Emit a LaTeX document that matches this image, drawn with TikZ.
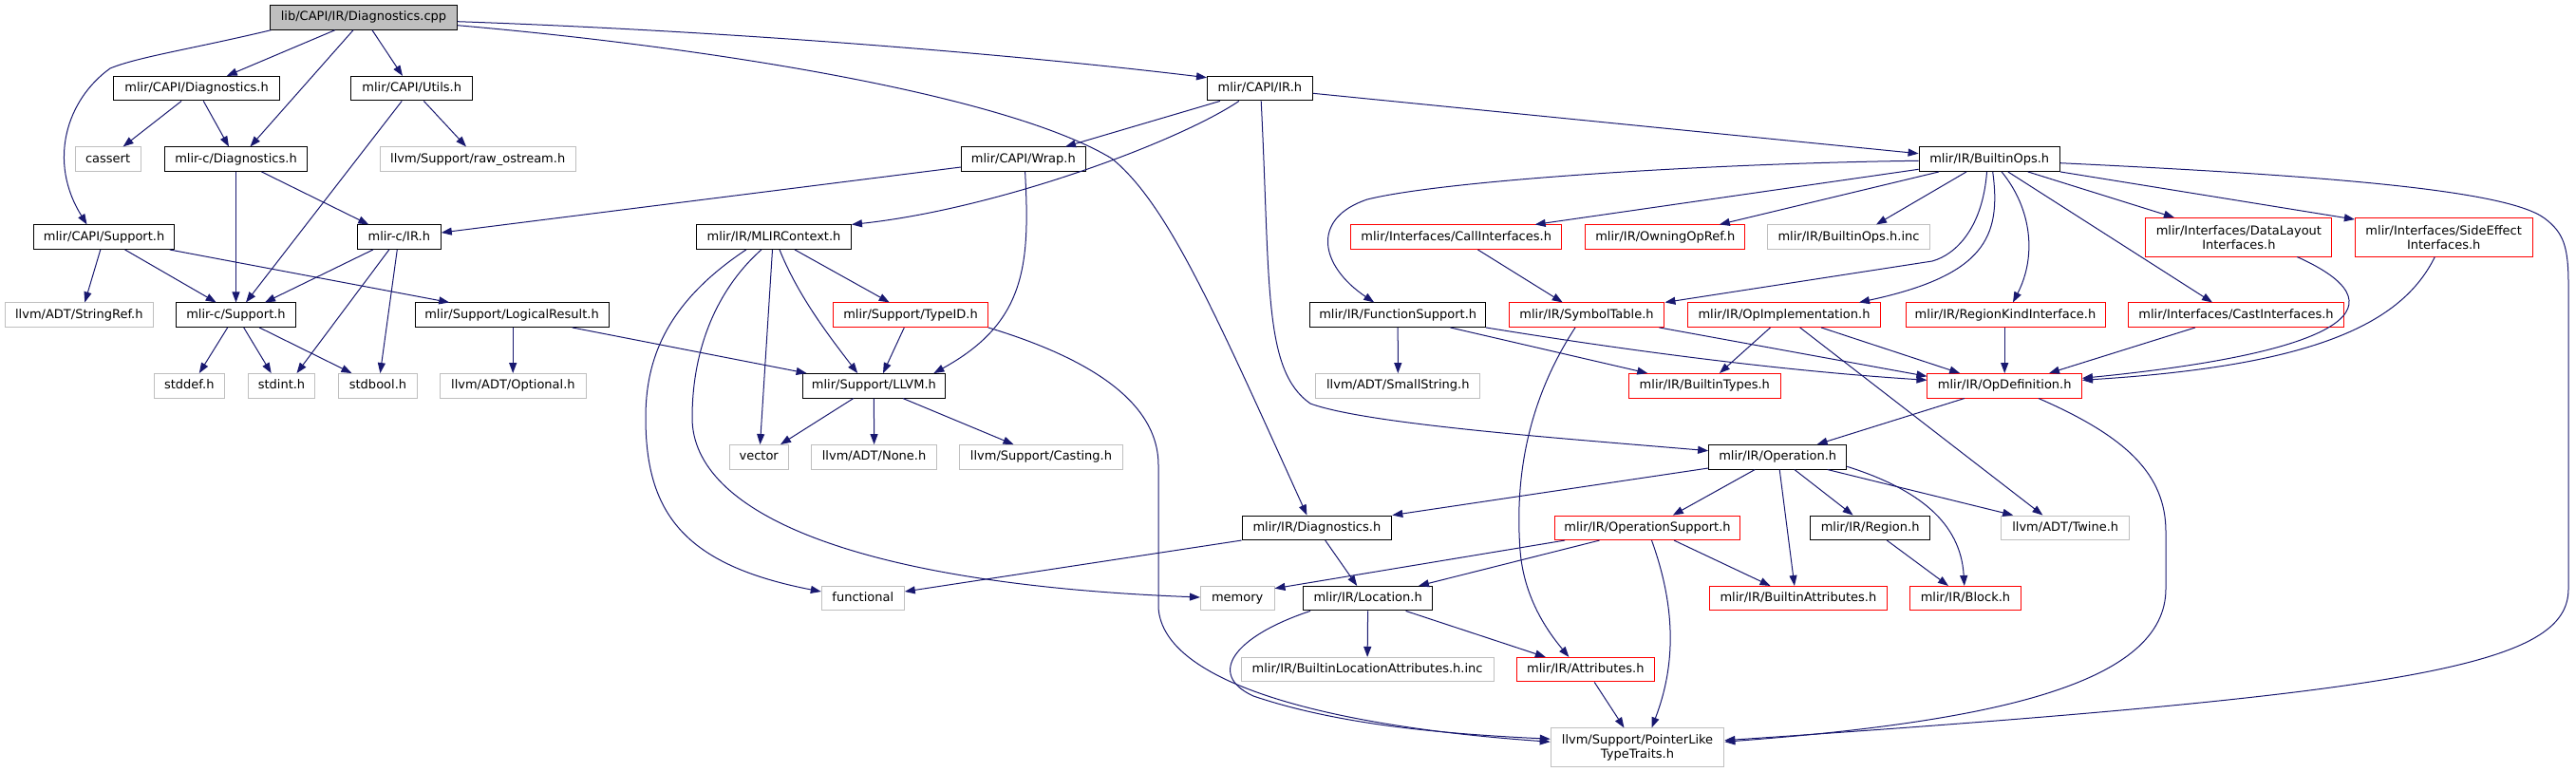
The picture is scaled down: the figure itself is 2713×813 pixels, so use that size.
\documentclass[tikz,border=0pt]{standalone}
\usepackage{fontspec}
\newfontfamily\dvs{DejaVu Sans}
\usetikzlibrary{arrows.meta}
\definecolor{edgeblue}{RGB}{25,25,112}
\definecolor{boxgray}{RGB}{191,191,191}
\definecolor{boxred}{RGB}{255,0,0}
\tikzset{
  base/.style={draw, line width=1pt, minimum height=25.5pt, inner sep=0pt, font={\dvs\fontsize{13}{15}\selectfont}},
  one/.style={text height=10.2pt, text depth=3.2pt},
  blk/.style={base, one, draw=black},
  gry/.style={base, one, draw=boxgray},
  redb/.style={base, one, draw=boxred},
  rootb/.style={base, one, draw=black, fill=boxgray},
  gry2/.style={base, draw=boxgray, minimum height=40.5pt, align=center},
  redb2/.style={base, draw=boxred, minimum height=40.5pt, align=center},
  lnk/.style={draw=edgeblue, line width=1pt, line join=round, -{Triangle[length=11pt,width=8pt]}}
}
\begin{document}
\begin{tikzpicture}[x=1pt,y=-1pt]
\fill[white] (0,0) rectangle (2713,813);
\useasboundingbox (0,0) rectangle (2713,813);
% nodes
\node[rootb, minimum width=196.5] (root) at (383,18.5) {lib/CAPI/IR/Diagnostics.cpp};
\node[blk, minimum width=175] (capiDiag) at (207.1,93.2) {mlir/CAPI/Diagnostics.h};
\node[blk, minimum width=128.2] (capiUtils) at (433.7,93.2) {mlir/CAPI/Utils.h};
\node[blk, minimum width=110.8] (capiIR) at (1326.9,93.2) {mlir/CAPI/IR.h};
\node[gry, minimum width=69.2] (cassert) at (113.6,167.7) {cassert};
\node[blk, minimum width=150.5] (mlircDiag) at (248.5,167.7) {mlir-c/Diagnostics.h};
\node[gry, minimum width=206.3] (rawostream) at (503.2,167.7) {llvm/Support/raw\_ostream.h};
\node[blk, minimum width=130.4] (capiWrap) at (1077.8,167.7) {mlir/CAPI/Wrap.h};
\node[blk, minimum width=148.3] (builtinOps) at (2095.2,167.7) {mlir/IR/BuiltinOps.h};
\node[blk, minimum width=147.8] (capiSupport) at (109.6,249.7) {mlir/CAPI/Support.h};
\node[blk, minimum width=88] (mlircIR) at (420.3,249.7) {mlir-c/IR.h};
\node[blk, minimum width=162.9] (mlirContext) at (815,249.7) {mlir/IR/MLIRContext.h};
\node[redb, minimum width=222.3] (callInterfaces) at (1533.7,249.7) {mlir/Interfaces/CallInterfaces.h};
\node[redb, minimum width=167.9] (owningOpRef) at (1753.8,249.7) {mlir/IR/OwningOpRef.h};
\node[gry, minimum width=170.5] (builtinOpsInc) at (1947,249.7) {mlir/IR/BuiltinOps.h.inc};
\node[redb2, minimum width=196] (dataLayout) at (2357.9,249.8) {mlir/Interfaces/DataLayout\\Interfaces.h};
\node[redb2, minimum width=186.6] (sideEffect) at (2573.7,249.8) {mlir/Interfaces/SideEffect\\Interfaces.h};
\node[gry, minimum width=155.8] (stringRef) at (83.3,331.7) {llvm/ADT/StringRef.h};
\node[blk, minimum width=125.5] (mlircSupport) at (248.5,331.7) {mlir-c/Support.h};
\node[blk, minimum width=204] (logicalResult) at (539,331.7) {mlir/Support/LogicalResult.h};
\node[redb, minimum width=162.5] (typeID) at (959,331.7) {mlir/Support/TypeID.h};
\node[blk, minimum width=184.5] (functionSupport) at (1472.2,331.7) {mlir/IR/FunctionSupport.h};
\node[redb, minimum width=163.9] (symbolTable) at (1671,331.7) {mlir/IR/SymbolTable.h};
\node[redb, minimum width=203.1] (opImpl) at (1879,331.7) {mlir/IR/OpImplementation.h};
\node[redb, minimum width=210] (regionKind) at (2112,331.7) {mlir/IR/RegionKindInterface.h};
\node[redb, minimum width=226.8] (castInterfaces) at (2355,331.7) {mlir/Interfaces/CastInterfaces.h};
\node[gry, minimum width=74.6] (stddef) at (199.3,406.3) {stddef.h};
\node[gry, minimum width=70.5] (stdint) at (296.5,406.3) {stdint.h};
\node[gry, minimum width=82.6] (stdbool) at (398,406.3) {stdbool.h};
\node[gry, minimum width=153.2] (optional) at (540.4,406.3) {llvm/ADT/Optional.h};
\node[blk, minimum width=150.4] (llvmH) at (920.4,406.3) {mlir/Support/LLVM.h};
\node[gry, minimum width=172.8] (smallString) at (1472.3,406.3) {llvm/ADT/SmallString.h};
\node[redb, minimum width=159.8] (builtinTypes) at (1795.3,406.3) {mlir/IR/BuiltinTypes.h};
\node[redb, minimum width=162.5] (opDef) at (2111.2,406.3) {mlir/IR/OpDefinition.h};
\node[gry, minimum width=62.4] (vector) at (799.2,481.3) {vector};
\node[gry, minimum width=132.1] (none) at (920.6,481.3) {llvm/ADT/None.h};
\node[gry, minimum width=171.4] (casting) at (1096.5,481.3) {llvm/Support/Casting.h};
\node[blk, minimum width=145.1] (operation) at (1872.2,481.3) {mlir/IR/Operation.h};
\node[blk, minimum width=157.8] (irDiag) at (1386.9,555.8) {mlir/IR/Diagnostics.h};
\node[redb, minimum width=194.6] (opSupport) at (1735,555.8) {mlir/IR/OperationSupport.h};
\node[blk, minimum width=125.4] (region) at (1969.6,555.8) {mlir/IR/Region.h};
\node[gry, minimum width=134.5] (twine) at (2175.2,555.8) {llvm/ADT/Twine.h};
\node[gry, minimum width=87] (functional) at (908.8,630.2) {functional};
\node[gry, minimum width=77.6] (memory) at (1303.2,630.2) {memory};
\node[blk, minimum width=136.2] (location) at (1440.6,630.2) {mlir/IR/Location.h};
\node[redb, minimum width=186.6] (builtinAttrs) at (1893.9,630.2) {mlir/IR/BuiltinAttributes.h};
\node[redb, minimum width=117.3] (block) at (2070,630.2) {mlir/IR/Block.h};
\node[gry, minimum width=265.8] (builtinLocInc) at (1440.1,705.2) {mlir/IR/BuiltinLocationAttributes.h.inc};
\node[redb, minimum width=145.6] (attributes) at (1669.8,705.2) {mlir/IR/Attributes.h};
\node[gry2, minimum width=182.6] (pointerLike) at (1724.5,787.2) {llvm/Support/PointerLike\\TypeTraits.h};
% edges
\draw[lnk] ([xshift=1pt]root.south west) .. controls (200,52) and (145,60) .. (116,72) .. controls (70,105) and (50,170) .. ([xshift=-18pt]capiSupport.north);
\draw[lnk] ([xshift=-30.3pt]root.south) -- ([xshift=31.7pt]capiDiag.north);
\draw[lnk] ([xshift=-11pt]root.south) -- ([xshift=15pt]mlircDiag.north);
\draw[lnk] ([xshift=9pt]root.south) -- ([xshift=-9.7pt]capiUtils.north);
\draw[lnk] ([yshift=-4.2pt]root.east) .. controls (750,32) and (1050,55) .. ([yshift=11.5pt]capiIR.west);
\draw[lnk] ([yshift=-8.2pt]root.east) .. controls (750,50) and (1060,100) .. (1171,167) .. controls (1230,215) and (1280,330) .. ([xshift=-10.5pt]irDiag.north);
\draw[lnk] ([xshift=-16pt]capiDiag.south) -- ([xshift=16pt]cassert.north);
\draw[lnk] ([xshift=7.2pt]capiDiag.south) -- ([xshift=-7.5pt]mlircDiag.north);
\draw[lnk] ([xshift=-10.5pt]capiUtils.south) -- ([xshift=10.5pt]mlircSupport.north);
\draw[lnk] ([xshift=12.7pt]capiUtils.south) -- ([xshift=-12.2pt]rawostream.north);
\draw[lnk] (mlircDiag.south) -- (mlircSupport.north);
\draw[lnk] ([xshift=27pt]mlircDiag.south) -- ([xshift=-32pt]mlircIR.north);
\draw[lnk] ([xshift=-3.8pt]capiSupport.south) -- ([xshift=6pt]stringRef.north);
\draw[lnk] ([xshift=22pt]capiSupport.south) -- ([xshift=-20.8pt]mlircSupport.north);
\draw[lnk] ([xshift=69pt]capiSupport.south) -- ([xshift=-65.8pt]logicalResult.north);
\draw[lnk] ([xshift=-27.4pt]mlircIR.south) -- ([xshift=30.5pt]mlircSupport.north);
\draw[lnk] ([xshift=-10.5pt]mlircIR.south) -- ([xshift=16pt]stdint.north);
\draw[lnk] ([xshift=-2pt]mlircIR.south) -- ([xshift=2.4pt]stdbool.north);
\draw[lnk] ([xshift=-8.8pt]mlircSupport.south) -- ([xshift=10.5pt]stddef.north);
\draw[lnk] ([xshift=8.2pt]mlircSupport.south) -- ([xshift=-10.8pt]stdint.north);
\draw[lnk] ([xshift=24.7pt]mlircSupport.south) -- ([xshift=-27.5pt]stdbool.north);
\draw[lnk] ([xshift=1.2pt]logicalResult.south) -- ([xshift=-0.2pt]optional.north);
\draw[lnk] ([xshift=63.7pt]logicalResult.south) -- ([xshift=-70.8pt]llvmH.north);
\draw[lnk] ([xshift=-42pt]capiIR.south) -- ([xshift=44.2pt]capiWrap.north);
\draw[lnk] ([xshift=-22pt]capiIR.south) .. controls (1240,150) and (1050,220) .. (mlirContext.north east);
\draw[lnk] ([xshift=1.3pt]capiIR.south) .. controls (1338,300) and (1330,390) .. (1380,425) .. controls (1440,447) and (1650,462) .. ([yshift=6.6pt]operation.west);
\draw[lnk] ([yshift=-5.1pt]capiIR.east) -- ([yshift=6pt]builtinOps.west);
\draw[lnk] ([yshift=-8.3pt]capiWrap.west) -- ([yshift=4.7pt]mlircIR.east);
\draw[lnk] ([xshift=1.8pt]capiWrap.south) .. controls (1085,280) and (1080,340) .. ([xshift=63pt]llvmH.north);
\draw[lnk] ([xshift=-29.2pt]mlirContext.south) .. controls (700,320) and (680,380) .. (680,440) .. controls (680,540) and (720,595) .. ([yshift=7.2pt]functional.west);
\draw[lnk] ([xshift=-13.1pt]mlirContext.south) .. controls (760,300) and (729,360) .. (729,440) .. controls (729,540) and (900,615) .. ([yshift=1.2pt]memory.west);
\draw[lnk] ([xshift=-1.5pt]mlirContext.south) -- ([xshift=1.3pt]vector.north);
\draw[lnk] ([xshift=6pt]mlirContext.south) .. controls (840,310) and (870,350) .. ([xshift=-17.2pt]llvmH.north);
\draw[lnk] ([xshift=22pt]mlirContext.south) -- ([xshift=-22.3pt]typeID.north);
\draw[lnk] ([xshift=-6.7pt]typeID.south) -- ([xshift=9.6pt]llvmH.north);
\draw[lnk] (typeID.south east) .. controls (1140,375) and (1220,420) .. (1220,490) -- (1220,640) .. controls (1225,720) and (1400,765) .. ([yshift=6pt]pointerLike.west);
\draw[lnk] ([xshift=-21.6pt]llvmH.south) -- ([xshift=22.8pt]vector.north);
\draw[lnk] (llvmH.south) -- (none.north);
\draw[lnk] ([xshift=30.6pt]llvmH.south) -- ([xshift=-29pt]casting.north);
\draw[lnk] ([yshift=-1.6pt]builtinOps.west) .. controls (1800,172) and (1520,190) .. (1440,210) .. controls (1380,230) and (1390,280) .. ([xshift=-25pt]functionSupport.north);
\draw[lnk] ([yshift=-10.6pt]builtinOps.west) -- ([xshift=83pt]callInterfaces.north);
\draw[lnk] ([xshift=-53.2pt]builtinOps.south) -- ([xshift=57pt]owningOpRef.north);
\draw[lnk] ([xshift=-24.2pt]builtinOps.south) -- ([xshift=29pt]builtinOpsInc.north);
\draw[lnk] ([xshift=-2.7pt]builtinOps.south) .. controls (2088,240) and (2060,268) .. (2035,275) -- (symbolTable.north east);
\draw[lnk] ([xshift=3.5pt]builtinOps.south) .. controls (2108,250) and (2090,290) .. ([xshift=79pt]opImpl.north);
\draw[lnk] ([xshift=12.9pt]builtinOps.south) .. controls (2140,220) and (2145,270) .. ([xshift=8pt]regionKind.north);
\draw[lnk] ([xshift=19.6pt]builtinOps.south) -- ([xshift=-25pt]castInterfaces.north);
\draw[lnk] ([xshift=40.6pt]builtinOps.south) -- ([xshift=-68pt]dataLayout.north);
\draw[lnk] (builtinOps.south east) -- ([yshift=-2pt]sideEffect.north west);
\draw[lnk] ([yshift=-4pt]builtinOps.east) .. controls (2450,185) and (2640,200) .. (2680,230) .. controls (2700,245) and (2705,260) .. (2705,300) -- (2705,620) .. controls (2705,700) and (2550,730) .. ([yshift=7.5pt]pointerLike.east);
\draw[lnk] ([xshift=22.7pt]callInterfaces.south) -- ([xshift=-25.3pt]symbolTable.north);
\draw[lnk] (functionSupport.south) -- (smallString.north);
\draw[lnk] ([xshift=55.2pt]functionSupport.south) -- ([xshift=-60pt]builtinTypes.north);
\draw[lnk] (functionSupport.south east) .. controls (1750,375) and (1900,392) .. ([yshift=6pt]opDef.west);
\draw[lnk] ([xshift=76.5pt]symbolTable.south) -- ([yshift=10pt]opDef.west);
\draw[lnk] ([xshift=-12pt]symbolTable.south) .. controls (1610,420) and (1595,500) .. (1601,580) .. controls (1605,630) and (1630,665) .. ([xshift=-17.4pt]attributes.north);
\draw[lnk] ([xshift=-14.5pt]opImpl.south) -- ([xshift=15.6pt]builtinTypes.north);
\draw[lnk] ([xshift=16.7pt]opImpl.south) -- ([xshift=-23.8pt]twine.north);
\draw[lnk] ([xshift=39pt]opImpl.south) -- ([xshift=-47pt]opDef.north);
\draw[lnk] ([xshift=-0.8pt]regionKind.south) -- (opDef.north);
\draw[lnk] ([xshift=-43pt]castInterfaces.south) -- ([xshift=46.8pt]opDef.north);
\draw[lnk] ([xshift=61.4pt]dataLayout.south) .. controls (2530,320) and (2480,370) .. ([yshift=8pt]opDef.east);
\draw[lnk] ([xshift=-9.4pt]sideEffect.south) .. controls (2530,340) and (2440,385) .. ([yshift=6pt]opDef.east);
\draw[lnk] ([xshift=-42.4pt]opDef.south) -- ([xshift=41.4pt]operation.north);
\draw[lnk] ([xshift=35.8pt]opDef.south) .. controls (2240,460) and (2281,500) .. (2281,560) -- (2281,620) .. controls (2281,720) and (2100,760) .. ([yshift=6pt]pointerLike.east);
\draw[lnk] ([yshift=-11.7pt]operation.west) -- (irDiag.north east);
\draw[lnk] ([xshift=-24pt]operation.south) -- ([xshift=26.8pt]opSupport.north);
\draw[lnk] ([xshift=2pt]operation.south) -- ([xshift=-4pt]builtinAttrs.north);
\draw[lnk] ([xshift=17.7pt]operation.south) -- ([xshift=-18pt]region.north);
\draw[lnk] ([xshift=52.5pt]operation.south) -- ([xshift=-55pt]twine.north);
\draw[lnk] ([yshift=-10pt]operation.east) .. controls (2020,515) and (2065,550) .. ([xshift=-1.2pt]block.north);
\draw[lnk] (irDiag.south west) -- ([yshift=7.2pt]functional.east);
\draw[lnk] ([xshift=8.8pt]irDiag.south) -- ([xshift=-11.4pt]location.north);
\draw[lnk] ([xshift=-87pt]opSupport.south) -- ([yshift=10.5pt]memory.east);
\draw[lnk] ([xshift=-50.4pt]opSupport.south) -- ([xshift=53.4pt]location.north);
\draw[lnk] ([xshift=4.5pt]opSupport.south) .. controls (1765,640) and (1765,700) .. ([xshift=15pt]pointerLike.north);
\draw[lnk] ([xshift=28pt]opSupport.south) -- ([xshift=-29.4pt]builtinAttrs.north);
\draw[lnk] ([xshift=17.6pt]region.south) -- ([xshift=-18pt]block.north);
\draw[lnk] (location.south) -- (builtinLocInc.north);
\draw[lnk] ([xshift=40pt]location.south) -- ([xshift=-42pt]attributes.north);
\draw[lnk] ([xshift=-60.6pt]location.south) .. controls (1300,670) and (1270,710) .. (1320,733) .. controls (1400,760) and (1500,772) .. ([yshift=9pt]pointerLike.west);
\draw[lnk] ([xshift=9.4pt]attributes.south) -- ([xshift=-14pt]pointerLike.north);
\end{tikzpicture}
\end{document}
